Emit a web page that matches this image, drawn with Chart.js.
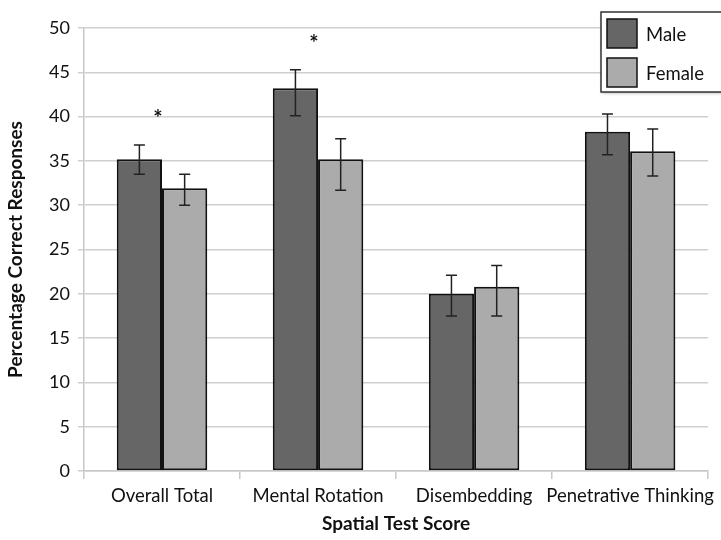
<!DOCTYPE html>
<html>
<head>
<meta charset="utf-8">
<script src="https://cdn.jsdelivr.net/npm/chart.js@4"></script>
<style>
    html, body { margin: 0; padding: 0; background: #fff; }
    #wrap { width: 721px; height: 540px; }
</style>
</head>
<body>
<div id="wrap"><canvas id="barChart" width="721" height="540"></canvas></div>
<script>
// ========================================
// 資料
// ========================================
const categories = ['Overall Total', 'Mental Rotation', 'Disembedding', 'Penetrative Thinking'];
const maleScores = [35.2, 43.2, 20.0, 38.3];
const femaleScores = [31.9, 35.2, 20.8, 36.1];
const maleErrLow = [33.5, 40.1, 17.5, 35.7];
const maleErrHigh = [36.8, 45.3, 22.1, 40.3];
const femaleErrLow = [30.0, 31.7, 17.5, 33.3];
const femaleErrHigh = [33.5, 37.5, 23.2, 38.6];
const significance = ['*', '*', '', ''];
const yTicks = [0, 5, 10, 15, 20, 25, 30, 35, 40, 45, 50];

const FONT = 'Lato, "Open Sans", sans-serif';

// 誤差線
const errorBarPlugin = {
    id: 'errorBars',
    afterDatasetsDraw(chart) {
        const ctx = chart.ctx;
        const y = chart.scales.y;
        const ranges = [[maleErrLow, maleErrHigh], [femaleErrLow, femaleErrHigh]];
        ctx.save();
        ctx.strokeStyle = '#222';
        ctx.lineWidth = 1.5;
        ranges.forEach((r, di) => {
            const meta = chart.getDatasetMeta(di);
            meta.data.forEach((bar, i) => {
                const x = bar.x;
                const top = y.getPixelForValue(r[1][i]);
                const bot = y.getPixelForValue(r[0][i]);
                ctx.beginPath();
                ctx.moveTo(x, top); ctx.lineTo(x, bot);
                ctx.moveTo(x - 5.5, top); ctx.lineTo(x + 5.5, top);
                ctx.moveTo(x - 5.5, bot); ctx.lineTo(x + 5.5, bot);
                ctx.stroke();
            });
        });
        // 顯著標記
        ctx.fillStyle = '#111';
        ctx.font = 'bold 22px ' + FONT;
        ctx.textAlign = 'center';
        ctx.textBaseline = 'middle';
        significance.forEach((s, i) => {
            if (!s) return;
            const x = chart.scales.x.getPixelForValue(i) - 4;
            const top = Math.max(maleErrHigh[i], femaleErrHigh[i]);
            ctx.fillText(s, x, y.getPixelForValue(top) - 26);
        });
        ctx.restore();
    }
};

// 圖例
const legendPlugin = {
    id: 'boxLegend',
    afterDraw(chart) {
        const ctx = chart.ctx;
        ctx.save();
        const bx = 601, by = 12, bw = 130, bh = 80;
        ctx.shadowColor = 'rgba(0,0,0,0.35)';
        ctx.shadowBlur = 3;
        ctx.shadowOffsetX = 1;
        ctx.shadowOffsetY = 1;
        ctx.fillStyle = '#fff';
        ctx.fillRect(bx, by, bw, bh);
        ctx.shadowColor = 'transparent';
        ctx.strokeStyle = '#333';
        ctx.lineWidth = 1.5;
        ctx.strokeRect(bx, by, bw, bh);
        chart.data.datasets.forEach((ds, i) => {
            const sy = by + 7 + i * 39;
            ctx.fillStyle = ds.backgroundColor;
            ctx.fillRect(bx + 6, sy, 30, 29);
            ctx.strokeStyle = '#111';
            ctx.lineWidth = 1.5;
            ctx.strokeRect(bx + 6, sy, 30, 29);
            ctx.fillStyle = '#111';
            ctx.font = '18.5px ' + FONT;
            ctx.textBaseline = 'middle';
            ctx.textAlign = 'left';
            ctx.fillText(ds.label, bx + 45, sy + 16);
        });
        ctx.restore();
    }
};

const barCtx = document.getElementById('barChart').getContext('2d');
new Chart(barCtx, {
    type: 'bar',
    data: {
        labels: categories,
        datasets: [
            {
                label: 'Male',
                data: maleScores,
                backgroundColor: '#666666',
                borderColor: '#111',
                borderWidth: 2,
                borderSkipped: false
            },
            {
                label: 'Female',
                data: femaleScores,
                backgroundColor: '#ababab',
                borderColor: '#111',
                borderWidth: 2,
                borderSkipped: false
            }
        ]
    },
    plugins: [errorBarPlugin, legendPlugin],
    options: {
        responsive: false,
        animation: false,
        devicePixelRatio: 1,
        layout: { padding: { top: 28, right: 9, left: 0, bottom: 0 } },
        datasets: {
            bar: { categoryPercentage: 0.58, barPercentage: 1.0 }
        },
        scales: {
            x: {
                afterFit(scale) { scale.height = 69; },
                grid: {
                    drawOnChartArea: false,
                    drawTicks: true,
                    tickLength: 8,
                    color: '#c8c8c8',
                    lineWidth: 1.5
                },
                border: { color: '#c8c8c8', width: 1.5 },
                ticks: {
                    color: '#111',
                    font: { family: FONT, size: 18.5 },
                    maxRotation: 0,
                    autoSkip: false,
                    padding: 6
                },
                title: {
                    display: true,
                    text: 'Spatial Test Score',
                    color: '#111',
                    font: { family: FONT, size: 19, weight: 'bold' },
                    padding: { top: 10, bottom: 5 }
                }
            },
            y: {
                min: 0,
                max: 50,
                afterBuildTicks(scale) {
                    scale.ticks = yTicks.map(v => ({ value: v }));
                },
                afterFit(scale) { scale.width = 84; },
                grid: {
                    color: '#cfcfcf',
                    lineWidth: 1.5,
                    tickLength: 6
                },
                border: { color: '#c8c8c8', width: 1.5 },
                ticks: {
                    color: '#111',
                    font: { family: FONT, size: 18 },
                    padding: 8
                },
                title: {
                    display: true,
                    text: 'Percentage Correct Responses',
                    color: '#111',
                    font: { family: FONT, size: 19, weight: 'bold' },
                    padding: { top: 4, bottom: 0 }
                }
            }
        },
        plugins: {
            legend: { display: false },
            tooltip: { enabled: false }
        }
    }
});
</script>
</body>
</html>
